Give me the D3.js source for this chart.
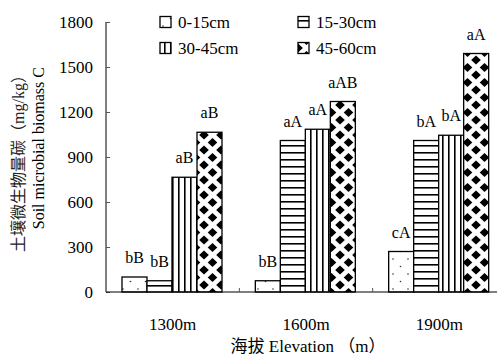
<!DOCTYPE html>
<html>
<head>
<meta charset="utf-8">
<script src="https://cdn.jsdelivr.net/npm/d3@7"></script>
<style>
  body { margin: 0; background: #fff; }
  text { font-family: "Liberation Serif", "Noto Sans CJK SC", serif; fill: #000; }
</style>
</head>
<body>
<svg id="chart" width="497" height="355"></svg>
<script>
// data
const elevations = ["1300m", "1600m", "1900m"];
const depths = ["0-15cm", "15-30cm", "30-45cm", "45-60cm"];
const v0_15 = [100, 75, 270];
const v15_30 = [75, 1010, 1010];
const v30_45 = [765, 1085, 1045];
const v45_60 = [1065, 1270, 1590];
const letters0_15 = ["bB", "bB", "cA"];
const letters15_30 = ["bB", "aA", "bA"];
const letters30_45 = ["aB", "aA", "bA"];
const letters45_60 = ["aB", "aAB", "aA"];
const yTicks = [0, 300, 600, 900, 1200, 1500, 1800];

const values = [v0_15, v15_30, v30_45, v45_60];
const letters = [letters0_15, letters15_30, letters30_45, letters45_60];

const svg = d3.select("#chart");
const plotLeft = 106, plotBottom = 292, plotTop = 22;

// patterns
const defs = svg.append("defs");
let p = defs.append("pattern").attr("id", "p0").attr("patternUnits", "userSpaceOnUse")
  .attr("width", 15).attr("height", 15);
p.append("rect").attr("width", 15).attr("height", 15).attr("fill", "#fff");
p.append("circle").attr("cx", 3).attr("cy", 4).attr("r", 0.8).attr("fill", "#333");
p.append("circle").attr("cx", 10.5).attr("cy", 11.5).attr("r", 0.8).attr("fill", "#333");

p = defs.append("pattern").attr("id", "p1").attr("patternUnits", "userSpaceOnUse")
  .attr("width", 7).attr("height", 7);
p.append("rect").attr("width", 7).attr("height", 7).attr("fill", "#fff");
p.append("rect").attr("y", 5).attr("width", 7).attr("height", 1.6).attr("fill", "#000");

p = defs.append("pattern").attr("id", "p2").attr("patternUnits", "userSpaceOnUse")
  .attr("width", 6).attr("height", 6);
p.append("rect").attr("width", 6).attr("height", 6).attr("fill", "#fff");
p.append("rect").attr("x", 4).attr("width", 1.6).attr("height", 6).attr("fill", "#000");

p = defs.append("pattern").attr("id", "p3").attr("patternUnits", "userSpaceOnUse")
  .attr("width", 17).attr("height", 15);
p.append("rect").attr("width", 17).attr("height", 15).attr("fill", "#fff");
[[0, 0], [17, 0], [0, 15], [17, 15], [8.5, 7.5]].forEach(c => {
  p.append("path")
    .attr("d", `M${c[0]},${c[1] - 4.6}L${c[0] + 4.8},${c[1]}L${c[0]},${c[1] + 4.6}L${c[0] - 4.8},${c[1]}Z`)
    .attr("fill", "#000");
});

// scales
const y = d3.scaleLinear().domain([0, 1800]).range([plotBottom, plotTop]);
const x0 = d3.scaleBand().domain(elevations).range([plotLeft, 506]);
const x1 = d3.scaleBand().domain(depths)
  .range([x0.bandwidth() * 0.12, x0.bandwidth() * 0.87]);

// bars
depths.forEach((dp, i) => {
  const g = svg.append("g");
  g.selectAll("rect")
    .data(elevations)
    .enter()
    .append("rect")
    .attr("x", (e) => x0(e) + x1(dp))
    .attr("y", (e, j) => y(values[i][j]))
    .attr("width", x1.bandwidth())
    .attr("height", (e, j) => plotBottom - y(values[i][j]))
    .attr("fill", `url(#p${i})`)
    .attr("stroke", "#000")
    .attr("stroke-width", 1.3);
  g.selectAll("text")
    .data(elevations)
    .enter()
    .append("text")
    .attr("x", (e) => x0(e) + x1(dp) + x1.bandwidth() / 2)
    .attr("y", (e, j) => y(values[i][j]) - 14)
    .attr("text-anchor", "middle")
    .attr("font-size", 16)
    .text((e, j) => letters[i][j]);
});

// y axis
const yAxis = svg.append("g").attr("transform", `translate(${plotLeft},0)`)
  .call(d3.axisLeft(y).tickValues(yTicks).tickFormat(d3.format("d")).tickSize(-4).tickPadding(13));
yAxis.select(".domain").attr("stroke", "#000").attr("d", `M0,${plotTop}V${plotBottom}`);
yAxis.selectAll(".tick line").attr("stroke", "#555");
yAxis.selectAll(".tick text").attr("font-size", 17).attr("dy", "0.35em");

// x axis
const xAxis = svg.append("g").attr("transform", `translate(0,${plotBottom})`);
xAxis.append("line").attr("x1", plotLeft).attr("x2", 497).attr("stroke", "#000");
xAxis.selectAll(".xt")
  .data(elevations.slice(1))
  .enter()
  .append("line")
  .attr("class", "xt")
  .attr("x1", e => x0(e)).attr("x2", e => x0(e))
  .attr("y1", 0).attr("y2", -4)
  .attr("stroke", "#555");
xAxis.selectAll("text")
  .data(elevations)
  .enter()
  .append("text")
  .attr("x", e => x0(e) + x0.bandwidth() / 2)
  .attr("y", 38)
  .attr("text-anchor", "middle")
  .attr("font-size", 17)
  .text(e => e);

// axis titles
svg.append("text")
  .attr("x", 308).attr("y", 352)
  .attr("text-anchor", "middle")
  .attr("font-size", 17)
  .text("海拔 Elevation （m）");

svg.append("text")
  .attr("transform", "translate(24,67) rotate(-90)")
  .attr("text-anchor", "end")
  .attr("font-size", 16)
  .style("fill", "#222")
  .text("土壤微生物量碳（mg/kg）");
svg.append("text")
  .attr("transform", "translate(44,67) rotate(-90)")
  .attr("text-anchor", "end")
  .attr("font-size", 16)
  .text("Soil microbial biomass C");

// legend
const legPos = [[160, 22], [298, 22], [160, 48], [298, 48]];
depths.forEach((dp, i) => {
  const lg = svg.append("g").attr("transform", `translate(${legPos[i][0]},${legPos[i][1]})`);
  lg.append("rect").attr("x", 0).attr("y", -5.5).attr("width", 11).attr("height", 11)
    .attr("fill", `url(#p${i})`).attr("stroke", "#000").attr("stroke-width", 1.3);
  lg.append("text").attr("x", 18).attr("y", 0).attr("dy", "0.35em")
    .attr("font-size", 17).text(dp);
});
</script>
</body>
</html>
